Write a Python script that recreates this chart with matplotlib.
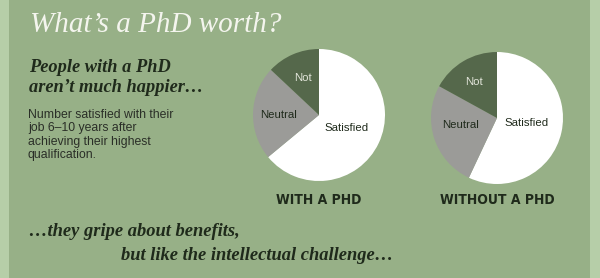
"""What's a PhD worth? -- job satisfaction pies, with vs without a PhD."""

import matplotlib
matplotlib.use("Agg")
import matplotlib.pyplot as plt
from matplotlib import font_manager

# data (% of respondents)
categories = ["Satisfied", "Neutral", "Not"]
with_phd = [64, 23, 13]
without_phd = [57, 26, 17]
group_titles = ["WITH A PHD", "WITHOUT A PHD"]

OUTER = "#b6cea8"
PANEL = "#97b087"
SLICE_COLORS = ["#ffffff", "#9b9b98", "#55684b"]
LABEL_COLORS = ["#1f2a1b", "#1f2a1b", "#e2e5da"]
DARK = "#1f2a1b"

W, H = 600, 278

SERIF = ["Liberation Serif", "DejaVu Serif"]
SANS = ["Liberation Sans", "DejaVu Sans"]


def _narrow_bold():
    """Find a condensed bold face if one is installed, else None."""
    for f in font_manager.fontManager.ttflist:
        w = f.weight if isinstance(f.weight, int) else font_manager.weight_dict.get(f.weight, 400)
        narrow = (str(f.stretch) in ("condensed", "semi-condensed", "extra-condensed",
                                     "ultra-condensed")
                  or "Condensed" in f.name or "Narrow" in f.name)
        if narrow and w >= 600:
            return font_manager.FontProperties(fname=f.fname)
    return None


NARROW = _narrow_bold()

fig = plt.figure(figsize=(W / 100, H / 100), dpi=100, facecolor=OUTER)

# background panel + free text live in a pixel-space axes
bg = fig.add_axes([0, 0, 1, 1])
bg.set_xlim(0, W)
bg.set_ylim(H, 0)
bg.axis("off")
bg.add_patch(plt.Rectangle((9, 0), 581, H, color=PANEL, lw=0))

bg.text(30, 25, "What\u2019s a PhD worth?", family=SERIF, style="italic",
        fontsize=21, color="#f4f5ee", va="center", ha="left")
bg.text(29, 67, "People with a PhD", family=SERIF, style="italic",
        weight="bold", fontsize=13.2, color=DARK, va="center")
bg.text(29, 88, "aren\u2019t much happier\u2026", family=SERIF, style="italic",
        weight="bold", fontsize=13.2, color=DARK, va="center")
body = ["Number satisfied with their", "job 6\u201310 years after",
        "achieving their highest", "qualification."]
for i, line in enumerate(body):
    bg.text(28, 115 + i * 13.3, line, family=SANS, fontsize=8.8,
            color="#2a2e27", va="center")

bg.text(29, 232, "\u2026they gripe about benefits,", family=SERIF,
        style="italic", weight="bold", fontsize=13.3, color=DARK, va="center")
bg.text(121, 256, "but like the intellectual challenge\u2026", family=SERIF,
        style="italic", weight="bold", fontsize=13.3, color=DARK, va="center")

# pies: (center x, center y, radius) in pixels, label offsets in radius units
pies = [
    (319, 115, 66, with_phd,
     {"Satisfied": (0.42, -0.2), "Neutral": (-0.61, 0.0), "Not": (-0.24, 0.56)}),
    (497, 118, 66, without_phd,
     {"Satisfied": (0.45, -0.08), "Neutral": (-0.56, -0.11), "Not": (-0.35, 0.55)}),
]
for (cx, cy, r, vals, offs), title in zip(pies, group_titles):
    ax = fig.add_axes([(cx - r) / W, (H - cy - r) / H, 2 * r / W, 2 * r / H])
    ax.pie(vals, colors=SLICE_COLORS, startangle=90, counterclock=False,
           wedgeprops={"linewidth": 0})
    ax.set_xlim(-1, 1)
    ax.set_ylim(-1, 1)
    ax.set_aspect("equal")
    for cat, col in zip(categories, LABEL_COLORS):
        dx, dy = offs[cat]
        ax.text(dx, dy, cat, family=SANS, fontsize=8.2, color=col,
                ha="center", va="center")
    if NARROW is not None:
        bg.text(cx, 200, title, fontproperties=NARROW, fontsize=10,
                color=DARK, ha="center", va="center")
    else:
        bg.text(cx, 200, title, family=SANS, weight="bold", fontsize=9,
                color=DARK, ha="center", va="center")

fig.savefig("out.png", dpi=100, facecolor=OUTER)
